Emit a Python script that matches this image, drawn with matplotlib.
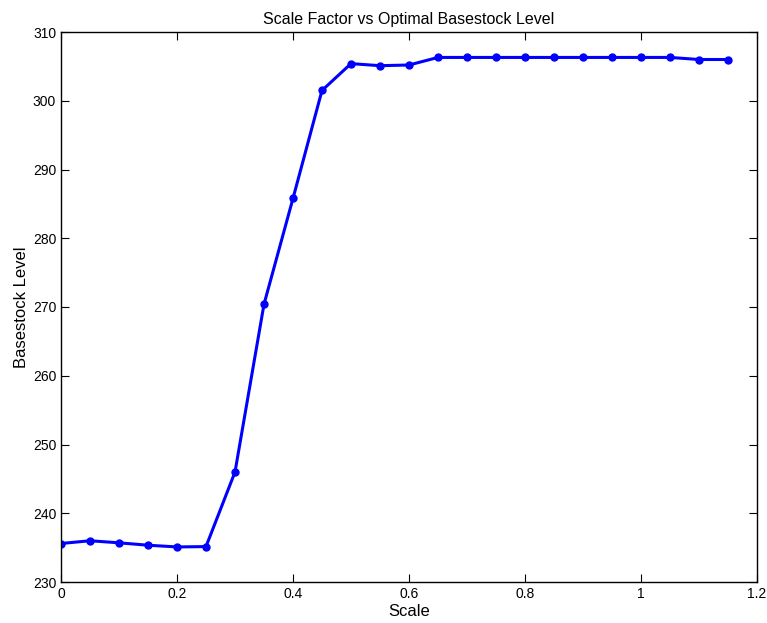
import matplotlib
matplotlib.use("Agg")
import matplotlib.pyplot as plt

scale = [0, 0.05, 0.1, 0.15, 0.2, 0.25, 0.3, 0.35, 0.4, 0.45, 0.5, 0.55, 0.6,
         0.65, 0.7, 0.75, 0.8, 0.85, 0.9, 0.95, 1.0, 1.05, 1.1, 1.15]
basestock = [235.6, 236.0, 235.7, 235.35, 235.1, 235.15, 246.0, 270.4, 285.8, 301.5,
             305.4, 305.1, 305.2, 306.3, 306.3, 306.3, 306.3, 306.3, 306.3, 306.3,
             306.3, 306.3, 306.0, 306.0]

plt.rcParams['font.family'] = ['Liberation Sans', 'DejaVu Sans']

fig = plt.figure(figsize=(7.67, 6.23), dpi=100)
ax = fig.add_axes([61/767, 1 - 582/623, (757-61)/767, (582-32)/623])

ax.plot(scale, basestock, color='blue', linewidth=2.2, marker='o', markersize=5)

ax.set_xlim(0, 1.2)
ax.set_ylim(230, 310)
ax.set_xticks([0, 0.2, 0.4, 0.6, 0.8, 1.0, 1.2])
ax.set_xticklabels(['0', '0.2', '0.4', '0.6', '0.8', '1', '1.2'])
ax.set_yticks(range(230, 311, 10))
ax.tick_params(direction='in', top=True, right=True, labelsize=10, length=6)
for s in ax.spines.values():
    s.set_linewidth(1)

ax.set_title('Scale Factor vs Optimal Basestock Level', fontsize=11.5, pad=6)
ax.set_xlabel('Scale', fontsize=12, labelpad=2)
ax.set_ylabel('Basestock Level', fontsize=12, labelpad=3)

fig.savefig('out.png', dpi=100)
